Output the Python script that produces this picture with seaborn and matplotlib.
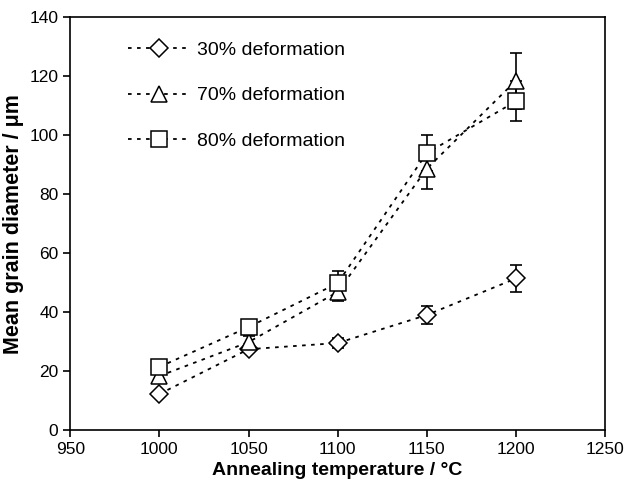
import numpy as np
import pandas as pd
import seaborn as sns
import matplotlib.pyplot as plt

temps = [1000, 1050, 1100, 1150, 1200]
d30 = [12.2, 27.4, 29.5, 39.0, 51.4]
e30 = [0.8, 1.0, 1.8, 3.0, 4.5]
d70 = [18.3, 29.8, 46.8, 88.6, 118.5]
e70 = [1.2, 2.0, 3.2, 7.0, 9.5]
d80 = [21.4, 34.9, 49.8, 93.9, 111.5]
e80 = [1.0, 1.0, 4.0, 6.2, 6.8]
labels = ['30% deformation', '70% deformation', '80% deformation']

sns.set_style('ticks')
plt.rcParams['font.family'] = ['Liberation Sans', 'DejaVu Sans']
plt.rcParams['text.color'] = 'black'
plt.rcParams['axes.labelcolor'] = 'black'
plt.rcParams['xtick.color'] = 'black'
plt.rcParams['ytick.color'] = 'black'

fig = plt.figure(figsize=(6.27, 4.92), dpi=100)
ax = fig.add_axes([0.112, 0.126, 0.853, 0.839])

series = [(d30, e30, 'D', 9.5), (d70, e70, '^', 12), (d80, e80, 's', 11.5)]
for (vals, errs, mk, ms), lab in zip(series, labels):
    ax.errorbar(temps, vals, yerr=errs, fmt='none', ecolor='black',
                elinewidth=1.2, capsize=4, capthick=1.2, zorder=2)
    df = pd.DataFrame({'T': temps, 'd': vals})
    sns.lineplot(data=df, x='T', y='d', ax=ax, color='black',
                 linestyle=(0, (2, 3)), linewidth=1.3, marker=mk,
                 markersize=ms, markerfacecolor='white',
                 markeredgecolor='black', markeredgewidth=1.1,
                 label=lab, zorder=3)

ax.set_xlim(950, 1250)
ax.set_ylim(0, 140)
ax.set_xticks(np.arange(950, 1251, 50))
ax.set_yticks(np.arange(0, 141, 20))
ax.tick_params(labelsize=12.5, length=5, width=1.2, color='black')
for s in ax.spines.values():
    s.set_linewidth(1.2)
    s.set_color('black')

ax.set_xlabel('Annealing temperature / °C', fontsize=14, fontweight='bold')
ax.set_ylabel('Mean grain diameter / μm', fontsize=15.5, fontweight='bold')

ax.legend(loc='upper left', frameon=False, fontsize=14, handlelength=3.1,
          handletextpad=0.45, labelspacing=1.45,
          bbox_to_anchor=(0.076, 0.985))

plt.savefig('out.png', dpi=100)
